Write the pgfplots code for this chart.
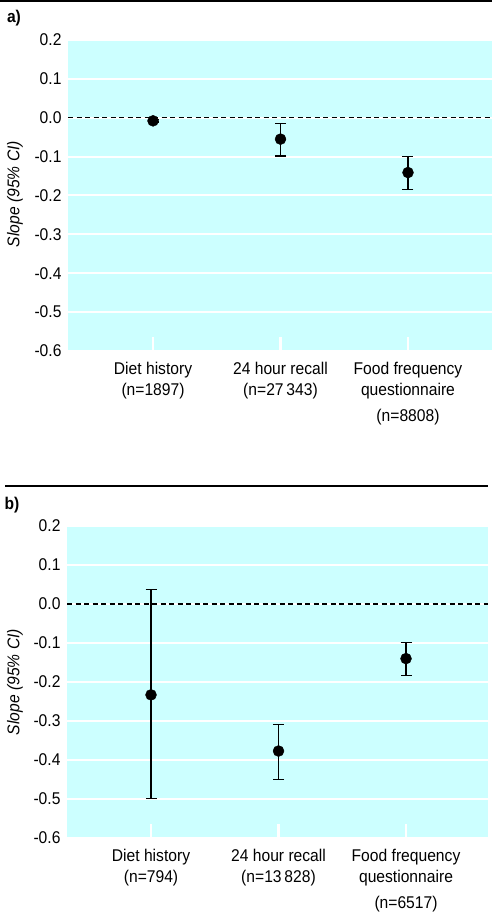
\documentclass[border=0pt]{standalone}
\usepackage{fontspec}
\setmainfont{Liberation Sans}[FakeStretch=0.92]
\usepackage{pgfplots}
\pgfplotsset{compat=1.18}
\definecolor{bgcyan}{RGB}{204,255,255}
\pgfplotsset{panel/.style={
  scale only axis, height=311pt,
  ymin=-0.6, ymax=0.2,
  axis line style={draw=none},
  ytick={-0.6,-0.5,-0.4,-0.3,-0.2,-0.1,0,0.1,0.2},
  yticklabels={-0.6,-0.5,-0.4,-0.3,-0.2,-0.1,0.0,0.1,0.2},
  grid=major, xmajorgrids=false,
  grid style={white, line width=2pt},
  xtick={0,1,2},
  tick pos=left,
  x tick style={white, line width=2.5pt},
  y tick style={white, line width=2pt},
  major tick length=14pt, tick align=inside,
  tick label style={font=\fontsize{17}{21}\selectfont},
  yticklabel style={xshift=-3pt},
  xticklabel style={align=center, anchor=north, yshift=-8pt},
  clip=false,
  error bars/y dir=both, error bars/y explicit,
  error bars/error bar style={line width=1.4pt, black},
  error bars/error mark options={rotate=90, line width=1.4pt, black, mark size=5.5pt},
}}
\begin{document}
\begin{tikzpicture}
\useasboundingbox (0,0) rectangle (492pt,912pt);
% panel a
\draw[line width=2.2pt] (0,911pt) -- (492pt,911pt);
\node[font=\fontsize{17}{20}\selectfont\bfseries] at (14pt,894pt) {a)};
\node[rotate=90, font=\fontsize{17}{20}\selectfont\itshape] at (15pt,718pt) {Slope (95\% CI)};
\fill[bgcyan] (68pt,561pt) rectangle (492pt,872pt);
\begin{axis}[panel, at={(68pt,561pt)}, anchor=south west, width=424pt,
  xmin=-0.667, xmax=2.659,
  xticklabels={{Diet history\\(n=1897)},{24 hour recall\\(n=27\,343)},{Food frequency\\questionnaire\\[5pt](n=8808)}}]
\addplot[black, dashed, dash pattern=on 5pt off 3.5pt, line width=1.3pt] coordinates {(-0.667,0) (2.659,0)};
\addplot[only marks, mark=*, mark size=5.5pt, black] coordinates {
  (0,-0.008) +- (0,0.003)
  (1,-0.055) += (0,0.040) -= (0,0.043)
  (2,-0.141) += (0,0.041) -= (0,0.044)
};
\end{axis}
% panel b
\draw[line width=1.8pt] (5pt,426pt) -- (488pt,426pt);
\node[font=\fontsize{17}{20}\selectfont\bfseries] at (12pt,407pt) {b)};
\node[rotate=90, font=\fontsize{17}{20}\selectfont\itshape] at (15pt,230pt) {Slope (95\% CI)};
\fill[bgcyan] (67pt,74pt) rectangle (488pt,386pt);
\begin{axis}[panel, at={(67pt,74pt)}, anchor=south west, width=421pt, height=312pt,
  xmin=-0.659, xmax=2.643,
  xticklabels={{Diet history\\(n=794)},{24 hour recall\\(n=13\,828)},{Food frequency\\questionnaire\\[5pt](n=6517)}}]
\addplot[black, dashed, dash pattern=on 5pt off 3.5pt, line width=1.3pt] coordinates {(-0.659,0) (2.643,0)};
\addplot[only marks, mark=*, mark size=5.5pt, black] coordinates {
  (0,-0.233) += (0,0.270) -= (0,0.266)
  (1,-0.377) += (0,0.068) -= (0,0.073)
  (2,-0.140) += (0,0.041) -= (0,0.044)
};
\end{axis}
\end{tikzpicture}
\end{document}
